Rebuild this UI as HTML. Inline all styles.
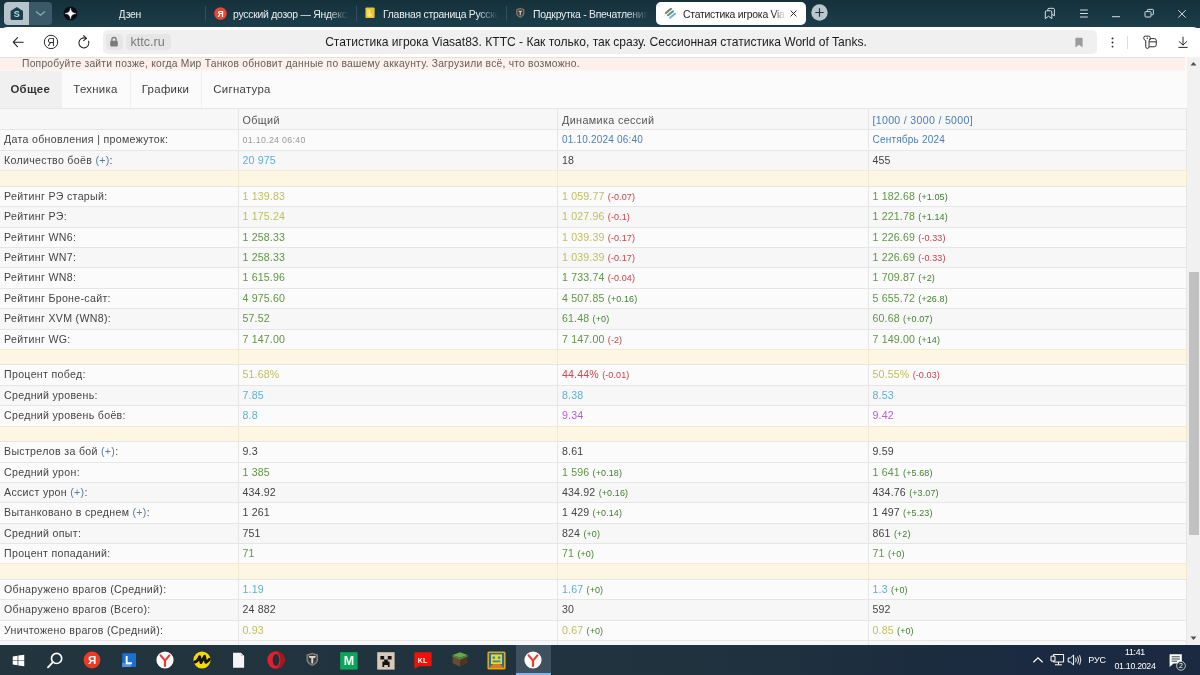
<!DOCTYPE html>
<html lang="ru">
<head>
<meta charset="utf-8">
<title>Статистика игрока Viasat83</title>
<style>
*{box-sizing:border-box;margin:0;padding:0}
html,body{width:1200px;height:675px;overflow:hidden;background:#fff}
body{font-family:"Liberation Sans",sans-serif;position:relative;color:#333}
#tabbar{position:absolute;left:0;top:0;width:1200px;height:28px;background:linear-gradient(180deg,#15303b 0%,#1c3f4b 100%)}
#toolbar{position:absolute;left:0;top:27px;width:1200px;height:30px;background:#fff;border-radius:7px 7px 0 0}
#page{position:absolute;left:0;top:57px;width:1200px;height:588px;background:#fafafa;overflow:hidden}
#taskbar{position:absolute;left:0;top:645px;width:1200px;height:30px;background:linear-gradient(90deg,#22343d 0%,#20323e 58%,#1b2a40 85%,#1b2941 100%)}
.abs{position:absolute}
/* tab bar */
.tt{position:absolute;top:7px;height:15px;line-height:15px;font-size:10.4px;letter-spacing:-.25px;color:#e8eef1;white-space:nowrap;overflow:hidden}
.fade{-webkit-mask-image:linear-gradient(90deg,#000 0,#000 82%,transparent 100%);mask-image:linear-gradient(90deg,#000 0,#000 82%,transparent 100%)}
.fade2{-webkit-mask-image:linear-gradient(90deg,#000 0,#000 88%,transparent 100%);mask-image:linear-gradient(90deg,#000 0,#000 88%,transparent 100%)}
.sep{position:absolute;top:6px;width:1px;height:15px;background:#31505f}
.tk{height:13px;line-height:13px;font-size:8.8px;letter-spacing:-.3px;color:#fff;text-align:center;white-space:nowrap}
/* page */
#pink{position:absolute;left:0;top:0;width:1185px;height:14px;background:linear-gradient(180deg,#fdefea 0,#fdefea 80%,#fdf6f3 100%);border-top:1px solid #e2e2e2}
#pink span{position:absolute;left:22px;top:-1.5px;line-height:13px;font-size:10.3px;letter-spacing:.23px;color:#606060;white-space:nowrap}
#ptabs{position:absolute;left:0;top:14px;width:1187px;height:38px;background:#fbfbfb}
.pt{position:absolute;top:0;height:38px;line-height:37.6px;font-size:11.4px;letter-spacing:.3px;color:#3c3c3c;text-align:center;border-right:1px solid #f0f0f0}
.pt.on{background:#f0f0f0;font-weight:bold;color:#333}
.row{position:absolute;left:0;width:1187px;border-top:1px solid #e6e6e6;line-height:19px}
.row.a{background:#f7f7f7}
.row.b{background:#fbfbfb}
.row.yel{background:#fdf6e2;border-top-color:#f3ead0}
.row>div{position:absolute;top:0;bottom:0;font-size:10.6px;letter-spacing:.32px;line-height:inherit;white-space:nowrap;color:#444;border-right:1px solid #e6e6e6;padding-left:4px}
.row.yel>div{border-right-color:#f3ead0}
.c1{left:0;width:238.5px}
.c2{left:238.5px;width:319.5px}
.c3{left:558px;width:310.5px}
.c4{left:868.5px;width:318.5px}
.row .v,.row .d{letter-spacing:.16px}
.row .pl{color:#587ca4}
.row .hd{color:#555;font-size:10.8px;letter-spacing:.36px}
.row .l1{letter-spacing:.31px}
.row .l2{font-size:10px;letter-spacing:.2px}
.lnk{color:#4a7fb5}
.row .sm{color:#999;font-size:8.8px;letter-spacing:.32px}
.cb{color:#5cb2d0}
.cy{color:#c0be5e}
.cg{color:#619646}
.cr{color:#d9434f}
.cp{color:#b45ad8}
.row .d{font-size:9px;letter-spacing:.1px}
.dr{color:#c8414b}
.dg{color:#3f7f2f}
/* scrollbar */
#sb{position:absolute;left:1187px;top:0;width:13px;height:588px;background:#f1f1f1}
#sb .th{position:absolute;left:2px;top:215px;width:9.5px;height:263.3px;background:#c1c1c1}
</style>
</head>
<body>
<div id="tabbar">
<div class="abs" style="left:4px;top:2px;width:24.5px;height:22.5px;background:#b7c4cc;border-radius:4px 0 0 4px"></div>
<div class="abs" style="left:28.5px;top:2px;width:23px;height:22.5px;background:#3a5a6a;border-radius:0 4px 4px 0"></div>
<svg class="abs" style="left:9px;top:5px" width="16" height="17" viewBox="0 0 16 17"><path d="M1.6 6 L7.8 2 L14 6 V13.6 Q14 15.1 12.5 15.1 H3.1 Q1.6 15.1 1.6 13.6 Z" fill="#1d3f4d"/><text x="7.8" y="11.7" font-family="Liberation Sans, sans-serif" font-weight="bold" font-size="9" fill="#a9dfe6" text-anchor="middle">S</text></svg>
<svg class="abs" style="left:33.5px;top:8.7px" width="13" height="9" viewBox="0 0 13 9"><path d="M2.3 2.8 L6.5 6.2 L10.7 2.8" fill="none" stroke="#8ea6b2" stroke-width="1.3" stroke-linecap="round" stroke-linejoin="round"/></svg>
<svg class="abs" style="left:63px;top:6.3px" width="15" height="15" viewBox="0 0 15 15"><circle cx="7.5" cy="7.5" r="6.9" fill="#0c0c14"/><path d="M7.5 1.9 Q7.9 7.1 13.1 7.5 Q7.9 7.9 7.5 13.1 Q7.1 7.9 1.9 7.5 Q7.1 7.1 7.5 1.9 Z" fill="#fff" stroke="#fff" stroke-width="0.35" stroke-linejoin="round"/></svg>
<div class="tt" style="left:118.5px;width:40px">Дзен</div>
<div class="sep" style="left:205px"></div>
<svg class="abs" style="left:213.7px;top:7px" width="13" height="13" viewBox="0 0 13 13"><circle cx="6.5" cy="6.5" r="6.3" fill="#f0442e"/><text x="6.6" y="9.8" font-family="Liberation Sans, sans-serif" font-weight="bold" font-size="8.6" fill="#fff" text-anchor="middle">Я</text></svg>
<div class="tt fade" style="left:233px;width:116px">русский дозор — Яндекс: нашлось</div>
<div class="sep" style="left:356px"></div>
<svg class="abs" style="left:365px;top:6.8px" width="10.5" height="11.4" viewBox="0 0 12 13"><rect x="0.5" y="0.5" width="10.5" height="12" rx="1" fill="#e8c52c"/><path d="M3.4 2.6 V10.2 H8 M5.4 3 V8.4 H8" stroke="#fbf3c0" stroke-width="1.1" fill="none"/></svg>
<div class="tt fade" style="left:383px;width:115px">Главная страница Русского</div>
<div class="sep" style="left:506px"></div>
<svg class="abs" style="left:515px;top:7px" width="10.5" height="11.5" viewBox="0 0 13 14"><path d="M6.5 0.8 L11.6 2.6 V8 Q11.6 11 6.5 13.4 Q1.4 11 1.4 8 V2.6 Z" fill="#7d786f"/><path d="M6.5 2.4 L10 3.7 V7.8 Q10 10 6.5 11.7 Q3 10 3 7.8 V3.7 Z" fill="#3f3b36"/><path d="M4.3 4.6 H8.7 V5.8 H7.2 V10 H5.8 V5.8 H4.3 Z" fill="#d8d2c4"/></svg>
<div class="tt fade" style="left:533px;width:115px">Подкрутка - Впечатления от игры</div>
<div class="abs" style="left:656.3px;top:2px;width:150px;height:22.5px;background:#fff;border-radius:5px"></div>
<svg class="abs" style="left:663px;top:6px" width="15" height="15" viewBox="0 0 15 15"><path d="M2.9 7 L8 2.8" stroke="#7d7475" stroke-width="2" stroke-linecap="round" fill="none"/><path d="M4.9 9.3 L10 5.4" stroke="#4f9d72" stroke-width="2" stroke-linecap="round" fill="none"/><path d="M7 11.8 L12 7.7" stroke="#6fb3d2" stroke-width="2" stroke-linecap="round" fill="none"/></svg>
<div class="tt fade2" style="left:683px;width:103px;color:#1d1d1d">Статистика игрока Viasat83</div>
<svg class="abs" style="left:788.8px;top:8.6px" width="9" height="9" viewBox="0 0 9 9"><path d="M1.6 1.6 L7.4 7.4 M7.4 1.6 L1.6 7.4" stroke="#222" stroke-width="0.95" fill="none"/></svg>
<svg class="abs" style="left:810.7px;top:4.4px" width="17" height="17" viewBox="0 0 17 17"><circle cx="8.5" cy="8.5" r="8.2" fill="#b9c6ce"/><path d="M8.5 4.3 V12.7 M4.3 8.5 H12.7" stroke="#1c3442" stroke-width="1.2" fill="none"/></svg>
<svg class="abs" style="left:1044px;top:6.5px" width="12" height="13" viewBox="0 0 12 13"><path d="M1.3 5 Q1.3 3.8 2.5 3.8 H6.6 Q7.8 3.8 7.8 5 V11.6 L4.55 9.2 L1.3 11.6 Z" fill="none" stroke="#d3dee3" stroke-width="1" stroke-linejoin="round"/><path d="M3.8 3.6 V2.5 Q3.8 1.3 5 1.3 H9.2 Q10.4 1.3 10.4 2.5 V8.8 L8 7.4" fill="none" stroke="#d3dee3" stroke-width="1" stroke-linejoin="round"/></svg>
<svg class="abs" style="left:1078.5px;top:7.5px" width="10" height="11" viewBox="0 0 10 11"><path d="M1 2 H8.8 M1 5.5 H8.8 M1 9 H8.8" stroke="#d3dee3" stroke-width="1" fill="none"/></svg>
<svg class="abs" style="left:1111px;top:14px" width="10" height="5" viewBox="0 0 10 5"><path d="M1 2.7 H9" stroke="#d3dee3" stroke-width="1" fill="none"/></svg>
<svg class="abs" style="left:1144px;top:8px" width="11" height="11" viewBox="0 0 11 11"><rect x="1" y="3.6" width="6" height="5.4" rx="0.8" fill="none" stroke="#d3dee3" stroke-width="1"/><path d="M3.4 3.4 V2.2 Q3.4 1.4 4.2 1.4 H8.6 Q9.4 1.4 9.4 2.2 V6 Q9.4 6.8 8.6 6.8 H7.4" fill="none" stroke="#d3dee3" stroke-width="1"/></svg>
<svg class="abs" style="left:1177px;top:8.5px" width="10" height="10" viewBox="0 0 10 10"><path d="M1.3 1.2 L8.7 8.6 M8.7 1.2 L1.3 8.6" stroke="#d3dee3" stroke-width="1" fill="none"/></svg>

</div>
<div id="toolbar">
<svg class="abs" style="left:11px;top:9px" width="14" height="12" viewBox="0 0 14 12"><path d="M12.2 6.2 H2.4 M6.6 1.6 L2.2 6.2 L6.6 10.8" fill="none" stroke="#1f1f1f" stroke-width="1.05" stroke-linecap="round" stroke-linejoin="round"/></svg>
<svg class="abs" style="left:43px;top:6.8px" width="16" height="16" viewBox="0 0 16 16"><circle cx="8" cy="8" r="6.7" fill="none" stroke="#1f1f1f" stroke-width="0.95"/><text x="7.9" y="11.6" font-family="Liberation Sans, sans-serif" font-size="10.4" fill="#1f1f1f" text-anchor="middle">Я</text></svg>
<svg class="abs" style="left:76px;top:7px" width="16" height="17" viewBox="0 0 16 17"><path d="M12.6 7.2 A5 5 0 1 1 9.6 4.2" fill="none" stroke="#1f1f1f" stroke-width="1.05" stroke-linecap="round"/><path d="M7.6 1.6 L10.6 4.3 L7.6 6.6" fill="none" stroke="#1f1f1f" stroke-width="1.05" stroke-linecap="round" stroke-linejoin="round"/></svg>
<div class="abs" style="left:103px;top:3px;width:993.5px;height:23.5px;background:#f0f0f0;border-radius:5px"></div>
<div class="abs" style="left:105.5px;top:6.5px;width:17px;height:16.5px;background:#e6e6e6;border-radius:4px"></div>
<svg class="abs" style="left:109px;top:9px" width="10" height="12" viewBox="0 0 10 12"><path d="M2.9 5 V3.6 Q2.9 1.5 5 1.5 Q7.1 1.5 7.1 3.6 V5" fill="none" stroke="#7a7a7a" stroke-width="1.3"/><rect x="1.2" y="4.8" width="7.6" height="5.8" rx="1.1" fill="#7a7a7a"/></svg>
<div class="abs" style="left:125.5px;top:6.5px;width:45.5px;height:16.5px;background:#e6e6e6;border-radius:4px"></div>
<div class="abs" style="left:130.5px;top:6.5px;height:16px;line-height:16px;font-size:12.6px;color:#7a7a7a;white-space:nowrap">kttc.ru</div>
<div class="abs" style="left:196px;top:6.5px;width:800px;height:17px;line-height:17px;font-size:12.05px;color:#1c1c1c;white-space:nowrap;text-align:center">Статистика игрока Viasat83. КТТС - Как только, так сразу. Сессионная статистика World of Tanks.</div>
<svg class="abs" style="left:1074px;top:9.5px" width="10" height="12" viewBox="0 0 10 12"><path d="M1.4 1.4 Q1.4 0.8 2 0.8 H8 Q8.6 0.8 8.6 1.4 V10.6 L5 7.8 L1.4 10.6 Z" fill="#9b9b9b"/></svg>
<svg class="abs" style="left:1109.5px;top:9px" width="5" height="13" viewBox="0 0 5 13"><circle cx="2.5" cy="2.4" r="0.95" fill="#222"/><circle cx="2.5" cy="6.5" r="0.95" fill="#222"/><circle cx="2.5" cy="10.6" r="0.95" fill="#222"/></svg>
<div class="abs" style="left:1127px;top:9px;width:1px;height:12.5px;background:#dcdcdc"></div>
<svg class="abs" style="left:1141.5px;top:7.8px" width="16.2" height="15.2" viewBox="0 0 17 16"><path d="M3.3 1.2 H7 Q8.6 1.2 8.6 2.8 V4 Q8.6 5.4 7.4 5.8 V12.2 Q7.4 14.2 5.6 14.2 Q3.9 14.2 3.9 12.2 V5.8 Q1.9 5.4 1.9 3.6 V2.6 Q1.9 1.2 3.3 1.2 Z" fill="#fff" stroke="#222" stroke-width="1"/><path d="M7.6 5.2 Q8.2 3.8 9.6 3.8 H13 Q15 3.8 15 5.8 V10.4 Q15 12.4 13 12.4 H7.6 M7.8 7.2 H15" fill="none" stroke="#222" stroke-width="1"/><circle cx="5.6" cy="3.3" r="0.7" fill="#222"/></svg>
<svg class="abs" style="left:1176.5px;top:8.8px" width="12" height="13" viewBox="0 0 13 14"><path d="M6.5 1.2 V9.6 M2.4 6 L6.5 9.8 L10.6 6 M2 12.3 H11" fill="none" stroke="#1f1f1f" stroke-width="1.05" stroke-linecap="round" stroke-linejoin="round"/></svg>

</div>
<div id="page">
<div id="pink"><span>Попробуйте зайти позже, когда Мир Танков обновит данные по вашему аккаунту. Загрузили всё, что возможно.</span></div>
<div id="ptabs">
<div class="pt on" style="left:0;width:61.5px">Общее</div>
<div class="pt" style="left:61.5px;width:69px">Техника</div>
<div class="pt" style="left:130.5px;width:71px">Графики</div>
<div class="pt" style="left:201.5px;width:81px;border-right:0">Сигнатура</div>
</div>
<div id="tbl" style="position:absolute;left:0;top:-57px;width:1187px;height:645px">
<div class="row a" style="top:108.40px;height:20.7px;line-height:23.6px"><div class="c1"></div><div class="c2"><span class="v hd">Общий</span></div><div class="c3"><span class="v hd">Динамика сессий</span></div><div class="c4"><span class="v lnk l1">[1000 / 3000 / 5000]</span></div></div>
<div class="row b" style="top:129.10px;height:20.4px"><div class="c1">Дата обновления | промежуток:</div><div class="c2"><span class="v sm">01.10.24 06:40</span></div><div class="c3"><span class="v lnk l2">01.10.2024 06:40</span></div><div class="c4"><span class="v lnk l2">Сентябрь 2024</span></div></div>
<div class="row a" style="top:149.50px;height:20.9px"><div class="c1">Количество боёв <span class="pl">(+)</span>:</div><div class="c2"><span class="v cb">20 975</span></div><div class="c3"><span class="v ">18</span></div><div class="c4"><span class="v ">455</span></div></div>
<div class="row yel" style="top:170.40px;height:15.6px"><div class="c1"></div><div class="c2"></div><div class="c3"></div><div class="c4"></div></div>
<div class="row b" style="top:186.00px;height:20.36px"><div class="c1">Рейтинг РЭ старый:</div><div class="c2"><span class="v cy">1 139.83</span></div><div class="c3"><span class="v cy">1 059.77</span> <span class="d dr">(-0.07)</span></div><div class="c4"><span class="v cg">1 182.68</span> <span class="d dg">(+1.05)</span></div></div>
<div class="row a" style="top:206.36px;height:20.36px"><div class="c1">Рейтинг РЭ:</div><div class="c2"><span class="v cy">1 175.24</span></div><div class="c3"><span class="v cy">1 027.96</span> <span class="d dr">(-0.1)</span></div><div class="c4"><span class="v cg">1 221.78</span> <span class="d dg">(+1.14)</span></div></div>
<div class="row b" style="top:226.72px;height:20.36px"><div class="c1">Рейтинг WN6:</div><div class="c2"><span class="v cg">1 258.33</span></div><div class="c3"><span class="v cy">1 039.39</span> <span class="d dr">(-0.17)</span></div><div class="c4"><span class="v cg">1 226.69</span> <span class="d dr">(-0.33)</span></div></div>
<div class="row a" style="top:247.08px;height:20.36px"><div class="c1">Рейтинг WN7:</div><div class="c2"><span class="v cg">1 258.33</span></div><div class="c3"><span class="v cy">1 039.39</span> <span class="d dr">(-0.17)</span></div><div class="c4"><span class="v cg">1 226.69</span> <span class="d dr">(-0.33)</span></div></div>
<div class="row b" style="top:267.44px;height:20.36px"><div class="c1">Рейтинг WN8:</div><div class="c2"><span class="v cg">1 615.96</span></div><div class="c3"><span class="v cg">1 733.74</span> <span class="d dr">(-0.04)</span></div><div class="c4"><span class="v cg">1 709.87</span> <span class="d dg">(+2)</span></div></div>
<div class="row b" style="top:287.80px;height:20.36px"><div class="c1">Рейтинг Броне-сайт:</div><div class="c2"><span class="v cg">4 975.60</span></div><div class="c3"><span class="v cg">4 507.85</span> <span class="d dg">(+0.16)</span></div><div class="c4"><span class="v cg">5 655.72</span> <span class="d dg">(+26.8)</span></div></div>
<div class="row a" style="top:308.16px;height:20.36px"><div class="c1">Рейтинг XVM (WN8):</div><div class="c2"><span class="v cg">57.52</span></div><div class="c3"><span class="v cg">61.48</span> <span class="d dg">(+0)</span></div><div class="c4"><span class="v cg">60.68</span> <span class="d dg">(+0.07)</span></div></div>
<div class="row b" style="top:328.52px;height:20.36px"><div class="c1">Рейтинг WG:</div><div class="c2"><span class="v cg">7 147.00</span></div><div class="c3"><span class="v cg">7 147.00</span> <span class="d dr">(-2)</span></div><div class="c4"><span class="v cg">7 149.00</span> <span class="d dg">(+14)</span></div></div>
<div class="row yel" style="top:348.88px;height:15.6px"><div class="c1"></div><div class="c2"></div><div class="c3"></div><div class="c4"></div></div>
<div class="row b" style="top:364.48px;height:20.36px"><div class="c1">Процент побед:</div><div class="c2"><span class="v cy">51.68%</span></div><div class="c3"><span class="v cr">44.44%</span> <span class="d dr">(-0.01)</span></div><div class="c4"><span class="v cy">50.55%</span> <span class="d dr">(-0.03)</span></div></div>
<div class="row a" style="top:384.84px;height:20.36px"><div class="c1">Средний уровень:</div><div class="c2"><span class="v cb">7.85</span></div><div class="c3"><span class="v cb">8.38</span></div><div class="c4"><span class="v cb">8.53</span></div></div>
<div class="row b" style="top:405.20px;height:20.36px"><div class="c1">Средний уровень боёв:</div><div class="c2"><span class="v cb">8.8</span></div><div class="c3"><span class="v cp">9.34</span></div><div class="c4"><span class="v cp">9.42</span></div></div>
<div class="row yel" style="top:425.56px;height:15.6px"><div class="c1"></div><div class="c2"></div><div class="c3"></div><div class="c4"></div></div>
<div class="row b" style="top:441.16px;height:20.36px"><div class="c1">Выстрелов за бой <span class="pl">(+)</span>:</div><div class="c2"><span class="v ">9.3</span></div><div class="c3"><span class="v ">8.61</span></div><div class="c4"><span class="v ">9.59</span></div></div>
<div class="row b" style="top:461.52px;height:20.36px"><div class="c1">Средний урон:</div><div class="c2"><span class="v cg">1 385</span></div><div class="c3"><span class="v cg">1 596</span> <span class="d dg">(+0.18)</span></div><div class="c4"><span class="v cg">1 641</span> <span class="d dg">(+5.68)</span></div></div>
<div class="row a" style="top:481.88px;height:20.36px"><div class="c1">Ассист урон <span class="pl">(+)</span>:</div><div class="c2"><span class="v ">434.92</span></div><div class="c3"><span class="v ">434.92</span> <span class="d dg">(+0.16)</span></div><div class="c4"><span class="v ">434.76</span> <span class="d dg">(+3.07)</span></div></div>
<div class="row b" style="top:502.24px;height:20.36px"><div class="c1">Вытанковано в среднем <span class="pl">(+)</span>:</div><div class="c2"><span class="v ">1 261</span></div><div class="c3"><span class="v ">1 429</span> <span class="d dg">(+0.14)</span></div><div class="c4"><span class="v ">1 497</span> <span class="d dg">(+5.23)</span></div></div>
<div class="row a" style="top:522.60px;height:20.36px"><div class="c1">Средний опыт:</div><div class="c2"><span class="v ">751</span></div><div class="c3"><span class="v ">824</span> <span class="d dg">(+0)</span></div><div class="c4"><span class="v ">861</span> <span class="d dg">(+2)</span></div></div>
<div class="row b" style="top:542.96px;height:20.36px"><div class="c1">Процент попаданий:</div><div class="c2"><span class="v cg">71</span></div><div class="c3"><span class="v cg">71</span> <span class="d dg">(+0)</span></div><div class="c4"><span class="v cg">71</span> <span class="d dg">(+0)</span></div></div>
<div class="row yel" style="top:563.32px;height:15.6px"><div class="c1"></div><div class="c2"></div><div class="c3"></div><div class="c4"></div></div>
<div class="row b" style="top:578.92px;height:20.36px"><div class="c1">Обнаружено врагов (Средний):</div><div class="c2"><span class="v cb">1.19</span></div><div class="c3"><span class="v cb">1.67</span> <span class="d dg">(+0)</span></div><div class="c4"><span class="v cb">1.3</span> <span class="d dg">(+0)</span></div></div>
<div class="row a" style="top:599.28px;height:20.36px"><div class="c1">Обнаружено врагов (Всего):</div><div class="c2"><span class="v ">24 882</span></div><div class="c3"><span class="v ">30</span></div><div class="c4"><span class="v ">592</span></div></div>
<div class="row b" style="top:619.64px;height:20.36px"><div class="c1">Уничтожено врагов (Средний):</div><div class="c2"><span class="v cy">0.93</span></div><div class="c3"><span class="v cy">0.67</span> <span class="d dg">(+0)</span></div><div class="c4"><span class="v cy">0.85</span> <span class="d dg">(+0)</span></div></div>
<div class="row a" style="top:640.00px;height:20.36px"><div class="c1"></div><div class="c2"></div><div class="c3"></div><div class="c4"></div></div>
</div>
<div id="sb"><div class="th"></div>
<svg class="abs" style="left:0;top:0" width="13" height="13" viewBox="0 0 13 13"><path d="M3.5 8.5 L6.5 5 L9.5 8.5 Z" fill="#505050"/></svg>
<svg class="abs" style="left:0;top:575px" width="13" height="13" viewBox="0 0 13 13"><path d="M3.5 4.5 L6.5 8 L9.5 4.5 Z" fill="#505050"/></svg>
</div>
</div>
<div id="taskbar">
<svg class="abs" style="left:11.7px;top:8.5px" width="13" height="13" viewBox="0 0 14 14"><path d="M0.8 2.6 L6 1.8 V6.6 H0.8 Z M6.8 1.7 L13.2 0.7 V6.6 H6.8 Z M0.8 7.4 H6 V12.2 L0.8 11.4 Z M6.8 7.4 H13.2 V13.3 L6.8 12.3 Z" fill="#fff"/></svg>
<svg class="abs" style="left:45px;top:6px" width="19" height="19" viewBox="0 0 19 19"><circle cx="11.6" cy="7.4" r="5.1" fill="none" stroke="#fff" stroke-width="1.7"/><path d="M7.9 11.2 L3 16.3" stroke="#fff" stroke-width="1.9" stroke-linecap="round"/></svg>
<svg class="abs" style="left:82.5px;top:6px" width="18" height="18" viewBox="0 0 18 18"><circle cx="9" cy="9" r="8.4" fill="#ee3a23"/><text x="9.1" y="13.2" font-family="Liberation Sans, sans-serif" font-weight="bold" font-size="11.5" fill="#fff" text-anchor="middle">Я</text></svg>
<svg class="abs" style="left:121.8px;top:7.8px" width="14.4" height="14.4" viewBox="0 0 16 16"><rect x="0.3" y="0.3" width="15.4" height="15.4" fill="#1c70d2"/><path d="M0.3 15.7 H10 V11 H0.3 Z" fill="#4f97e6"/><path d="M5.2 3.2 V11.4 H11" fill="none" stroke="#fff" stroke-width="2.1"/></svg>
<svg class="abs" style="left:156px;top:6px" width="18" height="18" viewBox="0 0 18 18"><circle cx="9" cy="9" r="8.6" fill="#fff"/><path d="M4.6 4.4 L9 9.6 L13.4 4.4 M9 9.4 V15" fill="none" stroke="#f0392b" stroke-width="2.2" stroke-linejoin="round" stroke-linecap="round"/></svg>
<svg class="abs" style="left:193px;top:6px" width="18" height="18" viewBox="0 0 18 18"><circle cx="9" cy="9" r="8.6" fill="#f7d90a"/><path d="M1.8 11 Q4.4 10.6 6.6 5.6 L8 11.6 L11.6 5.2 L12.8 11.4 Q15 10.4 16.4 8.2" fill="none" stroke="#15150e" stroke-width="2.8" stroke-linejoin="round" stroke-linecap="round"/></svg>
<svg class="abs" style="left:232.3px;top:6.5px" width="13.2" height="16.6" viewBox="0 0 14 18"><path d="M1 0.8 H9.4 L13 4.4 V17 H1 Z" fill="#f4f4f4"/><path d="M9.4 0.8 V4.4 H13 Z" fill="#c9c9c9"/></svg>
<svg class="abs" style="left:267px;top:6px" width="18" height="18" viewBox="0 0 18 18"><ellipse cx="9" cy="9" rx="8.7" ry="8.7" fill="#e0202e"/><ellipse cx="9" cy="9" rx="3.3" ry="6" fill="#1f2f3b"/><path d="M9 0.3 Q17.3 1.2 17.7 9 Q17.3 16.8 9 17.7 Q13.4 15 13.4 9 Q13.4 3 9 0.3 Z" fill="#a9141f"/></svg>
<svg class="abs" style="left:305px;top:7px" width="14.5" height="14.5" viewBox="0 0 18 18"><path d="M9 0.8 L16.2 3.2 V10 Q16.2 14.4 9 17.4 Q1.8 14.4 1.8 10 V3.2 Z" fill="#7f7d78"/><path d="M9 2.8 L14.2 4.6 V10 Q14.2 13 9 15.4 Q3.8 13 3.8 10 V4.6 Z" fill="#3d3c3a"/><path d="M4.6 5 H13.4 L12.4 7.4 H10.2 V13.6 L9 14.6 L7.8 13.6 V7.4 H5.6 Z" fill="#d9d6cf"/></svg>
<svg class="abs" style="left:340px;top:6.5px" width="18" height="18" viewBox="0 0 18 18"><rect x="0.2" y="0.2" width="17.4" height="17.4" fill="#0aa65a"/><text x="8.9" y="13.4" font-family="Liberation Sans, sans-serif" font-weight="bold" font-size="12.5" fill="#fff" text-anchor="middle">M</text></svg>
<svg class="abs" style="left:377px;top:6.5px" width="18" height="18" viewBox="0 0 18 18"><rect x="0.2" y="0.2" width="17.4" height="17.4" fill="#d9c9b9"/><path d="M3.4 4 H7.2 V7.6 H3.4 Z M10.8 4 H14.6 V7.6 H10.8 Z M7.2 7.6 H10.8 V9.6 H12.6 V15 H10.8 V13 H7.2 V15 H5.4 V9.6 H7.2 Z" fill="#141414"/></svg>
<svg class="abs" style="left:413.5px;top:7px" width="18" height="17" viewBox="0 0 18 17"><path d="M1.6 0.3 H16.4 Q17.6 0.3 17.6 1.5 V13 Q17.6 14.2 16.4 14.2 H5 L1.2 16.6 Q0.4 16.6 0.4 15.6 V1.5 Q0.4 0.3 1.6 0.3 Z" fill="#f01208"/><text x="8.6" y="10.6" font-family="Liberation Sans, sans-serif" font-weight="bold" font-size="7" fill="#fff" text-anchor="middle" letter-spacing="0.3">KL</text></svg>
<svg class="abs" style="left:451.5px;top:6.6px" width="16.2" height="15" viewBox="0 0 16 17" preserveAspectRatio="none"><path d="M8 0.4 L15.4 3.4 L8 6.8 L0.6 3.4 Z" fill="#6aa84a"/><path d="M0.6 3.4 L8 6.8 V16.6 L0.6 12.8 Z" fill="#6b4a34"/><path d="M15.4 3.4 L8 6.8 V16.6 L15.4 12.8 Z" fill="#4d3424"/><path d="M0.6 3.4 L8 6.8 L15.4 3.4 V5.2 L8 8.8 L0.6 5.2 Z" fill="#4f8a36"/></svg>
<svg class="abs" style="left:487px;top:6px" width="19" height="19" viewBox="0 0 19 19"><rect x="0.4" y="0.4" width="18.2" height="18.2" rx="1.5" fill="#d9a81c"/><rect x="2" y="2" width="15" height="15" fill="#1f6fa0"/><rect x="4" y="3.4" width="11" height="9.6" fill="#f4d422"/><path d="M5.6 5.4 H8 V7.8 H5.6 Z M11 5.4 H13.4 V7.8 H11 Z M5.6 9.6 H13.4 V11.2 H5.6 Z" fill="#2d89b8"/><path d="M2 17 L6 13 H13 L17 17 Z" fill="#e07a22"/></svg>
<div class="abs" style="left:515.5px;top:0;width:35.5px;height:30px;background:#3e515e"></div>
<div class="abs" style="left:515.5px;top:28px;width:35.5px;height:2px;background:#85b1e6"></div>
<svg class="abs" style="left:524px;top:6px" width="18" height="18" viewBox="0 0 18 18"><circle cx="9" cy="9" r="8.6" fill="#fff"/><path d="M4.6 4.4 L9 9.6 L13.4 4.4 M9 9.4 V15" fill="none" stroke="#f0392b" stroke-width="2.2" stroke-linejoin="round" stroke-linecap="round"/></svg>
<svg class="abs" style="left:1032px;top:11px" width="12" height="8" viewBox="0 0 12 8"><path d="M1.4 6.2 L6 1.8 L10.6 6.2" fill="none" stroke="#fff" stroke-width="1.2"/></svg>
<svg class="abs" style="left:1049.5px;top:8px" width="15" height="14" viewBox="0 0 15 14"><path d="M3.4 1.5 H13.6 V9 H3.4 Z M8.5 9 V11.6 M5 11.8 H12" fill="none" stroke="#fff" stroke-width="1"/><path d="M1 3.2 H5 V8 H1 Z" fill="#1f2f3b" stroke="#fff" stroke-width="1"/></svg>
<svg class="abs" style="left:1067px;top:8px" width="15" height="14" viewBox="0 0 15 14"><path d="M1.2 5 H3.4 L6.6 2 V12 L3.4 9 H1.2 Z" fill="none" stroke="#fff" stroke-width="1" stroke-linejoin="round"/><path d="M8.6 4.8 Q9.8 7 8.6 9.2 M10.6 3.4 Q12.6 7 10.6 10.6 M12.6 2.2 Q15 7 12.6 11.8" fill="none" stroke="#fff" stroke-width="0.9"/></svg>
<div class="abs tk" style="left:1085px;top:8.5px;width:24px;font-size:9px;letter-spacing:-.25px">РУС</div>
<div class="abs tk" style="left:1105px;top:0.8px;width:60px">11:41</div>
<div class="abs tk" style="left:1105px;top:14.6px;width:60px">01.10.2024</div>
<svg class="abs" style="left:1167.5px;top:7.5px" width="19" height="19" viewBox="0 0 19 19"><path d="M1.6 1.2 H13.8 V10.6 H5.6 L1.6 14 Z" fill="#fff"/><path d="M3.6 3.8 H11.8 M3.6 6 H11.8 M3.6 8.2 H9" stroke="#1f2f3b" stroke-width="0.9"/><circle cx="13" cy="12.8" r="4.4" fill="#1f2f3b" stroke="#cfd6db" stroke-width="0.9"/><text x="13" y="15.4" font-family="Liberation Sans, sans-serif" font-size="7" fill="#fff" text-anchor="middle">2</text></svg>

</div>
</body>
</html>
